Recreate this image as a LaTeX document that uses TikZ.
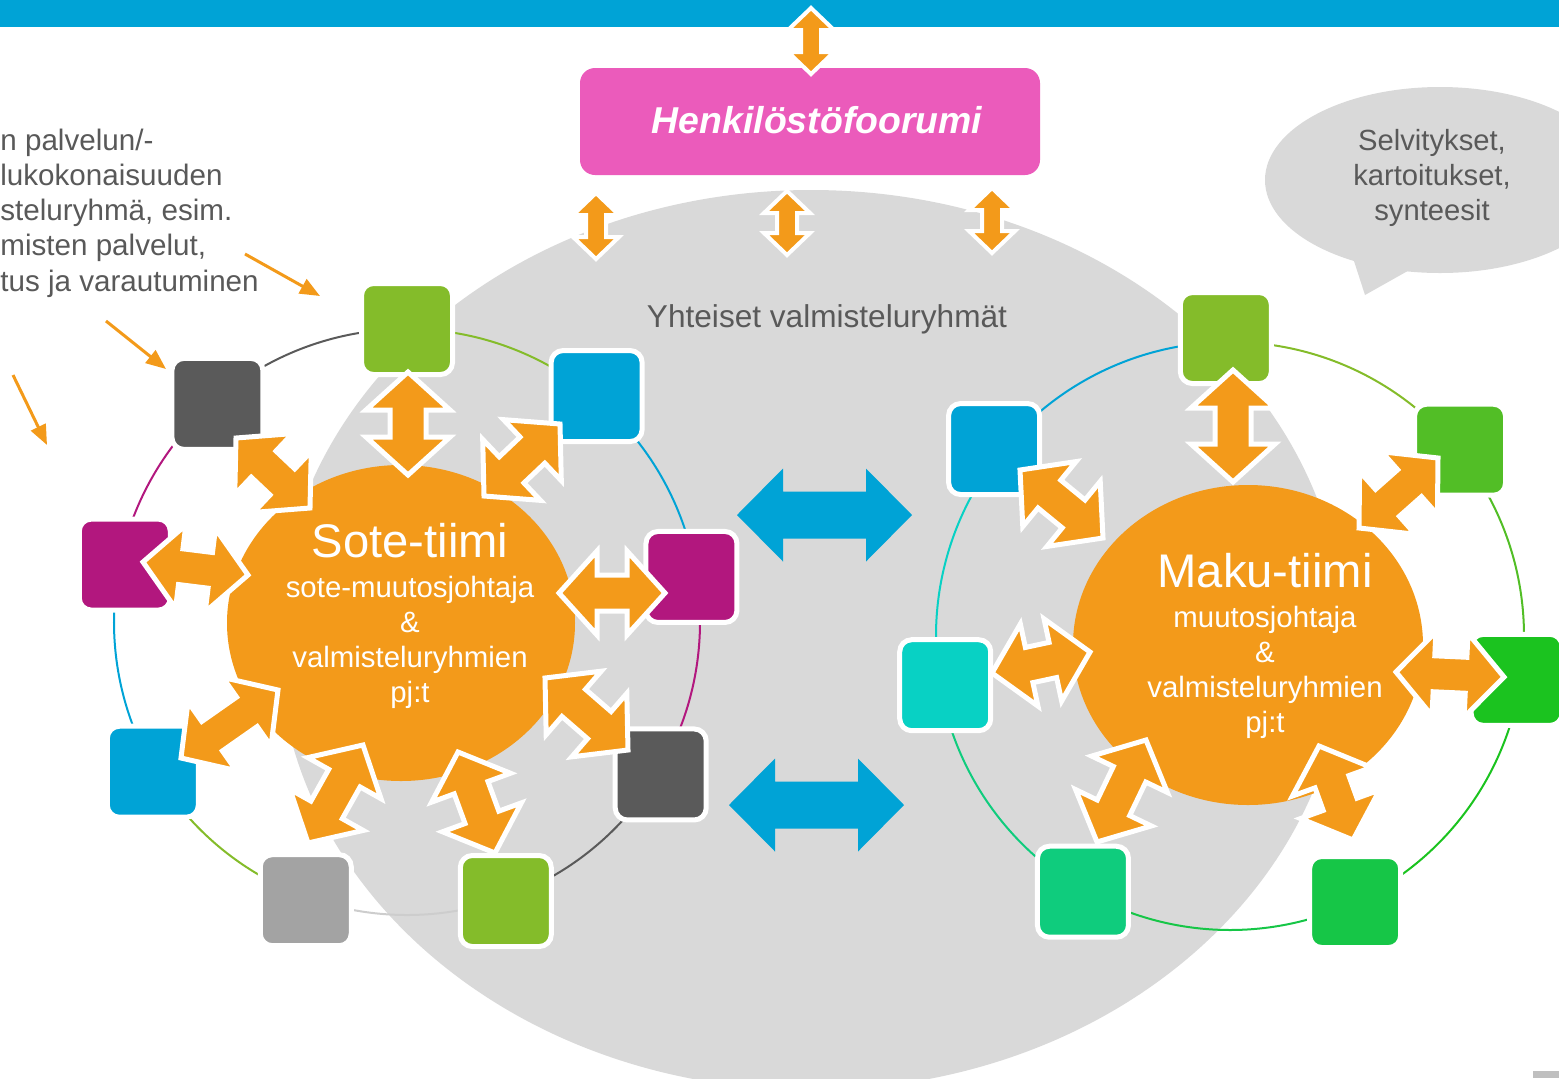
\documentclass[tikz,border=0pt]{standalone}
\usepackage{fontspec}
\setmainfont{Liberation Sans}
\usetikzlibrary{shapes.geometric,calc,arrows.meta}

\definecolor{barblue}{RGB}{0,163,214}
\definecolor{teamorange}{RGB}{243,154,26}
\definecolor{forumpink}{RGB}{235,91,187}
\definecolor{bggrey}{RGB}{217,217,217}
\definecolor{txtgrey}{RGB}{89,89,89}
\definecolor{sqgreen}{RGB}{132,188,42}
\definecolor{sqblue}{RGB}{0,163,214}
\definecolor{sqmagenta}{RGB}{178,23,126}
\definecolor{sqdark}{RGB}{90,90,90}
\definecolor{sqlight}{RGB}{163,163,163}
\definecolor{linelight}{RGB}{205,205,205}
\definecolor{sqgreenb}{RGB}{82,190,38}
\definecolor{sqgreenc}{RGB}{27,195,31}
\definecolor{sqgreend}{RGB}{22,198,71}
\definecolor{sqteal}{RGB}{15,204,125}
\definecolor{sqcyan}{RGB}{8,209,196}
\definecolor{cornergrey}{RGB}{191,191,191}

\tikzset{
  sq/.style={draw=white, line width=2.5pt, rounded corners=6pt, minimum size=45.5pt, inner sep=0pt},
  team/.style={ellipse, fill=teamorange, inner sep=0pt},
  teamtext/.style={text=white, align=center, inner sep=0pt, font=\fontsize{14.7}{17.4}\selectfont},
  ring/.style={line width=1pt},
  orangearrow/.style={fill=teamorange, draw=white, line width=2.5pt},
  smallarrow/.style={fill=teamorange, draw=white, line width=2pt},
  bluearrow/.style={fill=barblue},
  callout/.style={draw=teamorange, line width=1.5pt, -{Triangle[length=10pt,width=8pt]}},
  greytext/.style={text=txtgrey, inner sep=0pt}
}

% double block arrow: from, to, head length, head half width, shaft half width
\newcommand{\blockarrow}[6][]{%
  \path[#1] (#2)
    -- ($(#2)!#4!(#3)!#5!90:(#3)$)
    -- ($(#2)!#4!(#3)!#6!90:(#3)$)
    -- ($(#3)!#4!(#2)!#6!-90:(#2)$)
    -- ($(#3)!#4!(#2)!#5!-90:(#2)$)
    -- (#3)
    -- ($(#3)!#4!(#2)!#5!90:(#2)$)
    -- ($(#3)!#4!(#2)!#6!90:(#2)$)
    -- ($(#2)!#4!(#3)!#6!-90:(#3)$)
    -- ($(#2)!#4!(#3)!#5!-90:(#3)$)
    -- cycle;}

\begin{document}
\begin{tikzpicture}[x=0.5pt,y=0.5pt,yscale=-1,xscale=1]
\useasboundingbox (0,0) rectangle (1559,1078);

%Shape: Rectangle (top bar)
\fill[barblue] (0,0) rectangle (1559,27);

%Shape: Ellipse (common groups)
\fill[bggrey] (811,640) ellipse [x radius=533, y radius=450];

%Shape: Speech bubble
\fill[bggrey] (1440,180) ellipse [x radius=175, y radius=93];
\fill[bggrey] (1353,258) -- (1365,295) -- (1413,268) -- cycle;

% Text Node
\node[greytext, align=center, font=\fontsize{14.6}{17.5}\selectfont] (selv) at (1432,178) {Selvitykset,\\kartoitukset,\\synteesit};

%Shape: Rounded rectangle (forum)
\node[fill=forumpink, rounded corners=7.5pt, minimum width=230pt, minimum height=53.5pt, inner sep=0pt] (forum) at (810,121.5) {};
% Text Node
\node[text=white, inner sep=0pt, font=\fontsize{18.7}{22}\selectfont\bfseries\itshape] (forumtxt) at (817,120) {Henkilöstöfoorumi};

% Text Node
\node[greytext, font=\fontsize{15.8}{19}\selectfont] (yhteiset) at (827,319) {Yhteiset valmisteluryhmät};

% Text Node
\node[greytext, align=left, anchor=west, font=\fontsize{14.8}{17.6}\selectfont] (ryhma) at (0,213) {n palvelun/-\\lukokonaisuuden\\steluryhmä, esim.\\misten palvelut,\\tus ja varautuminen};

%Straight Lines (callouts)
\coordinate (c1s) at (245,254); \coordinate (c1e) at (320,296);
\coordinate (c2s) at (106,321); \coordinate (c2e) at (166,369);
\coordinate (c3s) at (13,375);  \coordinate (c3e) at (47,445);
\draw[callout] (c1s) -- (c1e);
\draw[callout] (c2s) -- (c2e);
\draw[callout] (c3s) -- (c3e);

%Arcs: left ring
\coordinate (lc) at (407,622);
\foreach \a/\b/\c in {-90/-50/sqgreen, -50/-10/sqblue, -10/30/sqmagenta, 30/70/sqdark, 70/110/linelight, 110/150/sqgreen, 150/190/sqblue, 190/230/sqmagenta, 230/270/sqdark}
  \draw[ring, \c] ($(lc)+(\a:293)$) arc [start angle=\a, end angle=\b, radius=293];

%Arcs: right ring
\coordinate (rc) at (1230,636);
\foreach \a/\b/\c in {-90/-39/sqgreen, -39/9/sqgreenb, 9/65/sqgreenc, 65/120/sqgreend, 120/170/sqteal, 170/218/sqcyan, 218/270/sqblue}
  \draw[ring, \c] ($(rc)+(\a:294)$) arc [start angle=\a, end angle=\b, radius=294];

%Shape: Circle (teams)
\node[team, minimum width=174pt, minimum height=158pt] (sote) at (401,623) {};
\node[team, minimum width=175pt, minimum height=160pt] (maku) at (1248,645) {};

% Text Node
\node[teamtext] (sotetxt) at (410,616) {{\fontsize{23.6}{28}\selectfont Sote-tiimi}\\[2.6pt] sote-muutosjohtaja\\ \&\\ valmisteluryhmien\\ pj:t};
% Text Node
\node[teamtext] (makutxt) at (1265,646) {{\fontsize{23.6}{28}\selectfont Maku-tiimi}\\[2.6pt] muutosjohtaja\\ \&\\ valmisteluryhmien\\ pj:t};

%Shape: Squares left
\node[sq, fill=sqgreen]   (s1) at ($(lc)+(-90:293)$) {};
\node[sq, fill=sqblue]    (s2) at ($(lc)+(-50:295)$) {};
\node[sq, fill=sqmagenta] (s3) at ($(lc)+(-9:288)$) {};
\node[sq, fill=sqdark]    (s4) at ($(lc)+(31:296)$) {};
\node[sq, fill=sqgreen]   (s5) at ($(lc)+(70.5:296)$) {};
\node[sq, fill=sqlight]   (s6) at ($(lc)+(110:296)$) {};
\node[sq, fill=sqblue]    (s7) at ($(lc)+(149.5:295)$) {};
\node[sq, fill=sqmagenta] (s8) at ($(lc)+(191.5:288)$) {};
\node[sq, fill=sqdark]    (s9) at ($(lc)+(229:289)$) {};

%Shape: Squares right
\node[sq, fill=sqgreen]  (m1) at ($(rc)+(-90.8:298)$) {};
\node[sq, fill=sqgreenb] (m2) at ($(rc)+(-39:296)$) {};
\node[sq, fill=sqgreenc] (m3) at ($(rc)+(8.7:290)$) {};
\node[sq, fill=sqgreend] (m4) at ($(rc)+(64.8:294)$) {};
\node[sq, fill=sqteal]   (m5) at ($(rc)+(119.9:295)$) {};
\node[sq, fill=sqcyan]   (m6) at ($(rc)+(170.2:289)$) {};
\node[sq, fill=sqblue]   (m7) at ($(rc)+(218.4:301)$) {};

%Arrows: Sote-tiimi <-> squares
\coordinate (sa1) at (408,475); \coordinate (sb1) at (408,372);
\coordinate (sa2) at (484,496); \coordinate (sb2) at (560,424);
\coordinate (sa3) at (559,593); \coordinate (sb3) at (665,593);
\coordinate (sa4) at (545,678); \coordinate (sb4) at (628,750);
\coordinate (sa5) at (458,752); \coordinate (sb5) at (495,853);
\coordinate (sa6) at (363,745); \coordinate (sb6) at (308,843);
\coordinate (sa7) at (278,690); \coordinate (sb7) at (181,758);
\coordinate (sa8) at (248,575); \coordinate (sb8) at (143,562);
\coordinate (sa9) at (310,508); \coordinate (sb9) at (236,438);
\foreach \i in {1,...,9}
  {\blockarrow[orangearrow]{sa\i}{sb\i}{19pt}{21pt}{9pt}}

%Arrows: Maku-tiimi <-> squares
\coordinate (ma1) at (1233,482); \coordinate (mb1) at (1233,370);
\coordinate (ma2) at (1359,528); \coordinate (mb2) at (1438,458);
\coordinate (ma3) at (1396,672); \coordinate (mb3) at (1504,677);
\coordinate (ma4) at (1319,746); \coordinate (mb4) at (1353,840);
\coordinate (ma5) at (1146,740); \coordinate (mb5) at (1097,842);
\coordinate (ma6) at (1090,652); \coordinate (mb6) at (992,673);
\coordinate (ma7) at (1103,538); \coordinate (mb7) at (1020,470);
\foreach \i in {1,...,7}
  {\blockarrow[orangearrow]{ma\i}{mb\i}{19pt}{21pt}{9pt}}

%Arrows: between teams
\coordinate (ba1) at (737,515); \coordinate (bb1) at (912,515);
\coordinate (ba2) at (729,805); \coordinate (bb2) at (904,805);
\blockarrow[bluearrow]{ba1}{bb1}{23pt}{23.25pt}{11.75pt}
\blockarrow[bluearrow]{ba2}{bb2}{23pt}{23.25pt}{11.75pt}

%Arrows: forum
\coordinate (fa0) at (811,8);   \coordinate (fb0) at (811,74);
\coordinate (fa1) at (596,193); \coordinate (fb1) at (596,259);
\coordinate (fa2) at (787,191); \coordinate (fb2) at (787,255);
\coordinate (fa3) at (992,188); \coordinate (fb3) at (992,253);
\foreach \i in {0,...,3}
  {\blockarrow[smallarrow]{fa\i}{fb\i}{11pt}{11.5pt}{5pt}}

%Shape: Rectangle (corner)
\fill[cornergrey] (1533,1071) rectangle (1559,1078);

\end{tikzpicture}
\end{document}
